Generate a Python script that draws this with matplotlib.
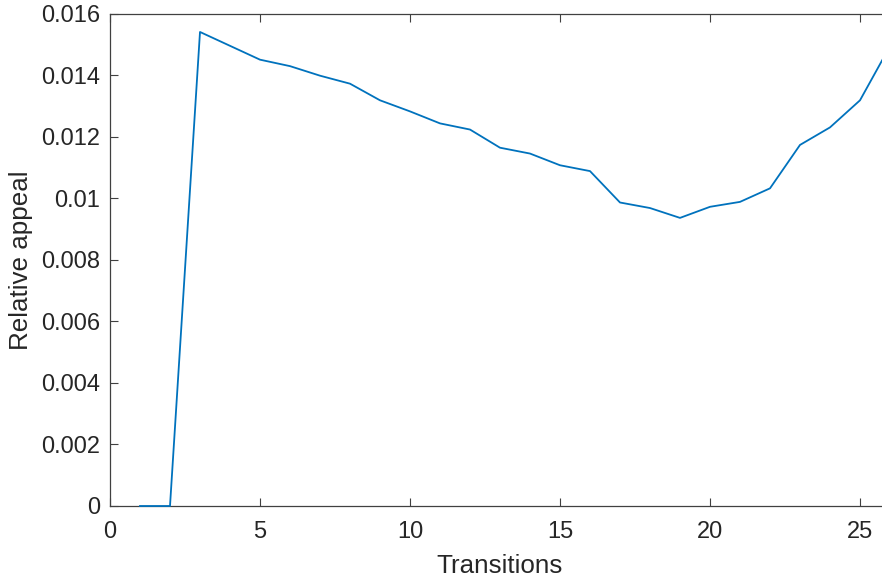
import matplotlib.pyplot as plt

plt.rcParams['font.family'] = ['Liberation Sans', 'DejaVu Sans']

# relative appeal per number of transitions
transitions = list(range(1, 27))
appeal = [0.0, 0.0, 0.01540, 0.01495, 0.01450, 0.01429, 0.01398, 0.01372,
          0.01318, 0.01282, 0.01243, 0.01223, 0.01164, 0.01145, 0.01107,
          0.01088, 0.00986, 0.00968, 0.00936, 0.00972, 0.00988, 0.01032,
          0.01173, 0.01230, 0.01318, 0.01494]

xticks = [0, 5, 10, 15, 20, 25]
yticks = [0, 0.002, 0.004, 0.006, 0.008, 0.01, 0.012, 0.014, 0.016]
ytick_labels = ['0', '0.002', '0.004', '0.006', '0.008', '0.01', '0.012', '0.014', '0.016']

fig = plt.figure(figsize=(8.82, 5.81), dpi=100)
# right edge of the axes sits just past the figure edge, as in the original crop
ax = fig.add_axes([110 / 882, 75 / 581, 780 / 882, 492.5 / 581])

ax.plot(transitions, appeal, color='#0072BD', linewidth=1.3,
        clip_on=False, zorder=5)

ax.set_xlim(0, 26)
ax.set_ylim(0, 0.016)
ax.set_xticks(xticks)
ax.set_yticks(yticks)
ax.set_yticklabels(ytick_labels)

ax.tick_params(direction='in', length=5.8, width=0.8, color='#404040',
               labelsize=17, labelcolor='#262626', top=True, right=True, pad=7)
ax.tick_params(axis='x', pad=10.5)
for s in ax.spines.values():
    s.set_color('#404040')
    s.set_linewidth(0.9)

ax.set_xlabel('Transitions', fontsize=18.7, color='#262626', labelpad=8)
ax.set_ylabel('Relative appeal', fontsize=18.7, color='#262626', labelpad=6)

fig.savefig('out.png', dpi=100)
